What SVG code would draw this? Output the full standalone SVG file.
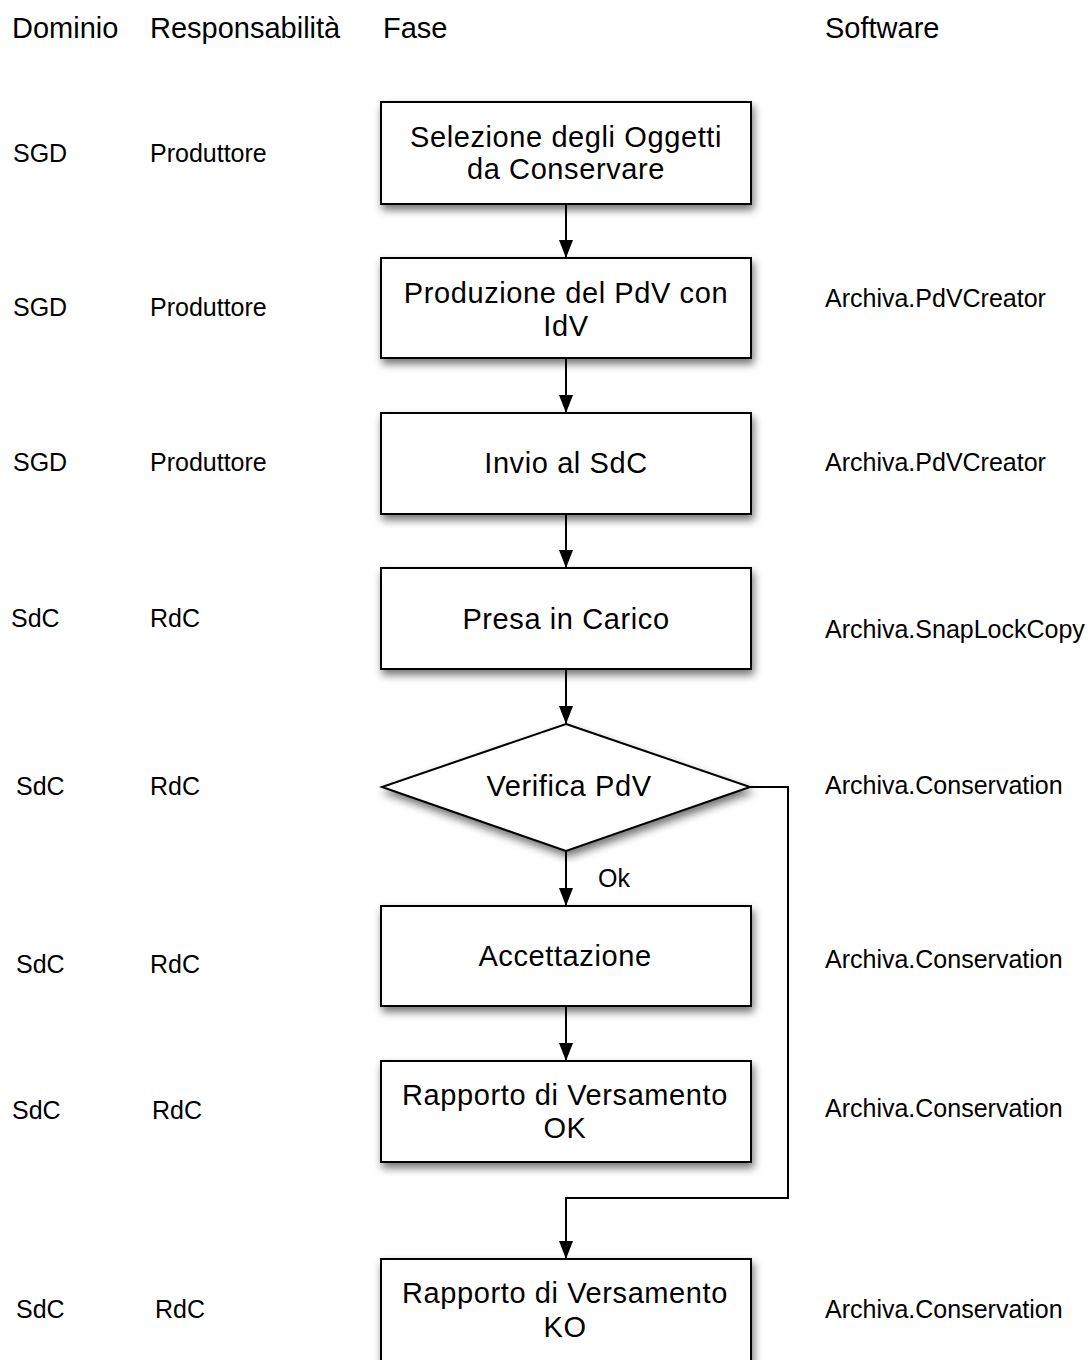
<svg xmlns="http://www.w3.org/2000/svg" width="1092" height="1360" viewBox="0 0 1092 1360">
<style>
text{font-family:"Liberation Sans",Arial,sans-serif;fill:#000}
.h{font-size:29px}
.s{font-size:25px}
.b{font-size:29px;letter-spacing:0.6px;text-anchor:middle}
.shape{fill:#fff;stroke:#000;stroke-width:2;filter:url(#sh)}
.c{fill:none;stroke:#000;stroke-width:2}
</style>
<defs>
<filter id="sh" x="-10%" y="-20%" width="125%" height="150%">
<feDropShadow dx="2" dy="5" stdDeviation="4" flood-color="#000" flood-opacity="0.55"/>
</filter>
<marker id="ah" viewBox="0 0 18 14" refX="18" refY="7" markerWidth="18" markerHeight="14" markerUnits="userSpaceOnUse" orient="auto">
<path d="M0,0 L18,7 L0,14 z" fill="#000"/>
</marker>
</defs>
<rect width="1092" height="1360" fill="#fff"/>
<g id="headers">
<text class="h" x="12" y="38">Dominio</text>
<text class="h" x="150" y="38">Responsabilità</text>
<text class="h" x="383" y="38">Fase</text>
<text class="h" x="825" y="38">Software</text>
</g>
<g id="labels">
<text class="s" x="13" y="162">SGD</text>
<text class="s" x="150" y="162">Produttore</text>
<text class="s" x="13" y="316">SGD</text>
<text class="s" x="150" y="316">Produttore</text>
<text class="s" x="825" y="307">Archiva.PdVCreator</text>
<text class="s" x="13" y="471">SGD</text>
<text class="s" x="150" y="471">Produttore</text>
<text class="s" x="825" y="471">Archiva.PdVCreator</text>
<text class="s" x="11" y="627">SdC</text>
<text class="s" x="150" y="627">RdC</text>
<text class="s" x="825" y="638">Archiva.SnapLockCopy</text>
<text class="s" x="16" y="795">SdC</text>
<text class="s" x="150" y="795">RdC</text>
<text class="s" x="825" y="794">Archiva.Conservation</text>
<text class="s" x="16" y="973">SdC</text>
<text class="s" x="150" y="973">RdC</text>
<text class="s" x="825" y="968">Archiva.Conservation</text>
<text class="s" x="12" y="1119">SdC</text>
<text class="s" x="152" y="1119">RdC</text>
<text class="s" x="825" y="1117">Archiva.Conservation</text>
<text class="s" x="16" y="1318">SdC</text>
<text class="s" x="155" y="1318">RdC</text>
<text class="s" x="825" y="1318">Archiva.Conservation</text>
</g>
<g id="connectors">
<line class="c" x1="566" y1="204" x2="566" y2="258" marker-end="url(#ah)"/>
<line class="c" x1="566" y1="358" x2="566" y2="413" marker-end="url(#ah)"/>
<line class="c" x1="566" y1="514" x2="566" y2="568" marker-end="url(#ah)"/>
<line class="c" x1="566" y1="669" x2="566" y2="724" marker-end="url(#ah)"/>
<line class="c" x1="566" y1="851" x2="566" y2="906" marker-end="url(#ah)"/>
<line class="c" x1="566" y1="1006" x2="566" y2="1061" marker-end="url(#ah)"/>
<polyline class="c" points="750,787 788,787 788,1198 566,1198 566,1259" marker-end="url(#ah)"/>
<text class="s" x="598" y="887">Ok</text>
</g>
<g id="n1"><rect class="shape" x="381" y="102" width="370" height="102"/>
<text class="b" x="566" y="147">Selezione degli Oggetti</text><text class="b" x="566" y="179">da Conservare</text></g>
<g id="n2"><rect class="shape" x="381" y="258" width="370" height="100"/>
<text class="b" x="566" y="303">Produzione del PdV con</text><text class="b" x="566" y="336">IdV</text></g>
<g id="n3"><rect class="shape" x="381" y="413" width="370" height="101"/>
<text class="b" x="566" y="473">Invio al SdC</text></g>
<g id="n4"><rect class="shape" x="381" y="568" width="370" height="101"/>
<text class="b" x="566" y="629">Presa in Carico</text></g>
<g id="n5"><polygon class="shape" points="566,724 750,787 566,851 382,787"/>
<text class="b" x="569" y="796">Verifica PdV</text></g>
<g id="n6"><rect class="shape" x="381" y="906" width="370" height="100"/>
<text class="b" x="565" y="966">Accettazione</text></g>
<g id="n7"><rect class="shape" x="381" y="1061" width="370" height="101"/>
<text class="b" x="565" y="1105">Rapporto di Versamento</text><text class="b" x="565" y="1138">OK</text></g>
<g id="n8"><rect class="shape" x="381" y="1259" width="370" height="110"/>
<text class="b" x="565" y="1303">Rapporto di Versamento</text><text class="b" x="565" y="1337">KO</text></g>
</svg>
